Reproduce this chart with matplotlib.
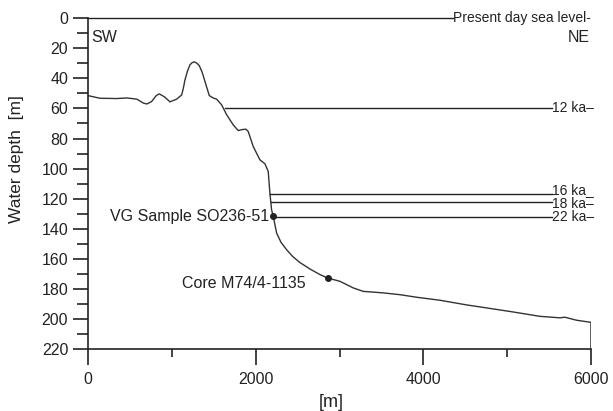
import matplotlib
matplotlib.use('Agg')
import matplotlib.pyplot as plt
from matplotlib.ticker import MultipleLocator

plt.rcParams['font.family'] = ['Liberation Sans', 'DejaVu Sans']

# bathymetric profile, distance [m] vs water depth [m]
dist = [0, 140, 340, 460, 580, 660, 700, 756, 810, 847, 880, 915, 975, 1055,
        1115, 1135, 1154, 1185, 1213, 1240, 1265, 1295, 1325, 1360, 1393, 1444,
        1490, 1532, 1592, 1652, 1730, 1790, 1840, 1882, 1909, 1969, 2049, 2109,
        2148, 2168, 2188, 2208, 2248, 2300, 2368, 2440, 2526, 2646, 2765, 2857,
        3004, 3163, 3282, 3521, 3720, 3919, 4197, 4516, 4754, 5072, 5390, 5629,
        5689, 5829, 6000, 6000]
depth = [51.5, 53.2, 53.4, 53.0, 53.8, 56.5, 57.0, 55.4, 51.5, 50.3, 51.3, 52.5,
         55.6, 53.8, 51.0, 46.5, 41.0, 35.0, 31.0, 29.5, 29.0, 29.8, 31.5, 36.0,
         42.0, 51.4, 53.0, 53.8, 57.6, 64.2, 70.9, 74.7, 74.0, 73.8, 75.3, 85.3,
         94.2, 96.8, 101.9, 116.3, 127.4, 131.8, 142.9, 149.0, 154.0, 158.5,
         162.5, 166.8, 170.5, 172.8, 175.0, 179.4, 181.7, 182.7, 183.9, 185.6,
         187.6, 190.7, 192.7, 195.4, 198.3, 199.3, 198.9, 200.9, 202.3, 220]

# sea level stands
level_labels = ['Present day sea level-', '12 ka\u2013', '16 ka_', '18 ka\u2013', '22 ka\u2013']
level_depth = [0, 60, 117, 122, 132]
level_start = [0, 1630, 2175, 2180, 2208]
level_end = [4352, 5530, 5530, 5530, 5530]

# sample sites
sample_names = ['VG Sample SO236-51', 'Core M74/4-1135']
sample_dist = [2208, 2857]
sample_depth = [131.8, 172.8]

fig = plt.figure(figsize=(6.13, 4.11), dpi=100)
ax = fig.add_axes([0.144, 0.151, 0.820, 0.8045])

ink = '#222222'
ax.plot(dist, depth, color='#333333', lw=1.0)

# vertical nudges (points) so the close 16/18 ka labels stay apart
label_dy = [0, 0, 3, -1.5, 0]
for lab, d, x0, x1, dy in zip(level_labels, level_depth, level_start, level_end, label_dy):
    ax.plot([x0, x1], [d, d], color=ink, lw=1.0, clip_on=False)
    ax.annotate(lab, (x1, d), xytext=(0, dy), textcoords='offset points',
                ha='left', va='center', fontsize=10, color=ink)

ax.plot(sample_dist, sample_depth, 'o', color=ink, ms=4, clip_on=False)
ax.annotate(sample_names[0], (sample_dist[0], sample_depth[0]), xytext=(-3, 0),
            textcoords='offset points', ha='right', va='center', fontsize=11.5, color=ink)
ax.annotate(sample_names[1], (sample_dist[1], sample_depth[1]), xytext=(-16, -4),
            textcoords='offset points', ha='right', va='center', fontsize=11.5, color=ink)

ax.text(30, 13, 'SW', ha='left', va='center', fontsize=11.5, color=ink)
ax.text(5990, 13, 'NE', ha='right', va='center', fontsize=11.5, color=ink)

ax.set_xlim(0, 6000)
ax.set_ylim(220, 0)
ax.xaxis.set_major_locator(MultipleLocator(2000))
ax.xaxis.set_minor_locator(MultipleLocator(1000))
ax.yaxis.set_major_locator(MultipleLocator(20))
ax.yaxis.set_minor_locator(MultipleLocator(10))

for s in ['top', 'right']:
    ax.spines[s].set_visible(False)
for s in ['left', 'bottom']:
    ax.spines[s].set_linewidth(1.2)
    ax.spines[s].set_color(ink)

ax.tick_params(axis='x', which='major', length=11.5, width=1.2, pad=5, labelsize=11.5, colors=ink)
ax.tick_params(axis='x', which='minor', length=5.8, width=1.2, colors=ink)
ax.tick_params(axis='y', which='major', length=11, width=1.2, pad=3.5, labelsize=11.5, colors=ink)
ax.tick_params(axis='y', which='minor', length=8, width=1.2, colors=ink)

ax.set_xlabel('[m]', fontsize=13, color=ink)
ax.xaxis.set_label_coords(0.484, -0.135)
ax.set_ylabel('Water depth  [m]', fontsize=12.5, color=ink)
ax.yaxis.set_label_coords(-0.128, 0.575)

fig.savefig('out.png', dpi=100)
